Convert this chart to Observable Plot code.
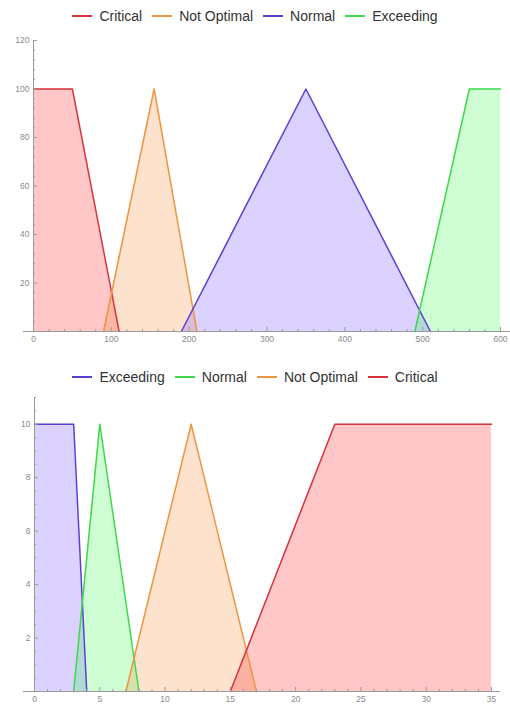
<!DOCTYPE html>
<html>
<head>
<meta charset="utf-8">
<script src="https://cdn.jsdelivr.net/npm/d3@7"></script>
<script src="https://cdn.jsdelivr.net/npm/@observablehq/plot@0.6"></script>
<style>
  body { margin: 0; background: #fff; width: 510px; font-family: "Liberation Sans", Arial, sans-serif; }
  .legend { text-align: center; font-size: 14px; color: #333; white-space: nowrap; }
  .legend .item { display: inline-block; margin: 0 5px; }
  .legend .swatch { display: inline-block; width: 20px; height: 2px; vertical-align: middle; margin-right: 7px; position: relative; top: -1px; }
  #legend1 { height: 28px; line-height: 28px; padding-top: 2px; }
  #legend2 { height: 25px; line-height: 25px; margin-top: 14px; }
  svg { display: block; }
</style>
</head>
<body>
<div id="legend1" class="legend"></div>
<div id="chart1"></div>
<div id="legend2" class="legend"></div>
<div id="chart2"></div>
<script>
// Membership functions, first panel (0–600 scale)
const topNames = ["Critical", "Not Optimal", "Normal", "Exceeding"];
const topX = [[0, 50, 110], [90, 155, 210], [190, 350, 510], [490, 560, 600]];
const topY = [[100, 100, 0], [0, 100, 0], [0, 100, 0], [0, 100, 100]];
const topXMajor = [0, 100, 200, 300, 400, 500, 600];
const topYMajor = [20, 40, 60, 80, 100, 120];

// Membership functions, second panel (0–35 scale)
const bottomNames = ["Exceeding", "Normal", "Not Optimal", "Critical"];
const bottomX = [[0, 3, 4], [3, 5, 8], [7, 12, 17], [15, 23, 35]];
const bottomY = [[10, 10, 0], [0, 10, 0], [0, 10, 0], [0, 10, 10]];
const bottomXMajor = [0, 5, 10, 15, 20, 25, 30, 35];
const bottomYMajor = [2, 4, 6, 8, 10];

// Colours: red, orange, purple, green (line and fill)
const RED = {line: "#d8343c", fill: "#ff0000"};
const ORANGE = {line: "#ef9440", fill: "#f5811e"};
const PURPLE = {line: "#5b3fd4", fill: "#5a32ff"};
const GREEN = {line: "#3fd84c", fill: "#1ef53c"};
const topColors = [RED, ORANGE, PURPLE, GREEN];
const bottomColors = [PURPLE, GREEN, ORANGE, RED];

function minorTicks(step, lo, hi, majorStep) {
  const out = [];
  for (let i = Math.round(lo / step); i * step <= hi + 1e-9; i++) {
    const v = +(i * step).toFixed(6);
    if (Math.abs(v / majorStep - Math.round(v / majorStep)) > 1e-6) out.push(v);
  }
  return out;
}

function legend(el, names, colors) {
  el.innerHTML = names.map((n, i) =>
    `<span class="item"><span class="swatch" style="background:${colors[i].line}"></span>${n}</span>`
  ).join("");
}

function chart({names, colors, xs, ys, xDomain, yDomain, xLine, xMajor, xMinor, yMajor, yMinor, height, marginTop, marginBottom, marginLeft, marginRight}) {
  const series = names.map((name, i) => xs[i].map((x, j) => ({name, x, y: ys[i][j]})));
  const marks = [];
  series.forEach((d, i) => marks.push(Plot.areaY(d, {x: "x", y: "y", fill: colors[i].fill, fillOpacity: 0.22})));
  series.forEach((d, i) => marks.push(Plot.line(d, {x: "x", y: "y", stroke: colors[i].line, strokeWidth: 1.5})));
  marks.push(
    Plot.ruleY([0], {x1: xLine[0], x2: xLine[1], stroke: "#9a9a9a", strokeWidth: 1}),
    Plot.ruleX([0], {y1: 0, y2: yDomain[1], stroke: "#9a9a9a", strokeWidth: 1}),
    Plot.axisX(xMajor, {tickSize: -4, tickPadding: 8, stroke: "#9a9a9a", label: null}),
    Plot.axisX(xMinor, {tickSize: -2, tickFormat: () => "", stroke: "#9a9a9a", label: null}),
    Plot.axisY(yMajor, {tickSize: -4, tickPadding: 8, stroke: "#9a9a9a", label: null}),
    Plot.axisY(yMinor, {tickSize: -2, tickFormat: () => "", stroke: "#9a9a9a", label: null})
  );
  return Plot.plot({
    width: 510, height, marginTop, marginBottom, marginLeft, marginRight,
    x: {domain: xDomain, label: null},
    y: {domain: yDomain, label: null},
    style: {fontFamily: "'Liberation Sans', Arial, sans-serif", fontSize: "8.5px", color: "#8a8a8a", background: "#fff"},
    marks
  });
}

legend(document.getElementById("legend1"), topNames, topColors);
document.getElementById("chart1").append(chart({
  names: topNames, colors: topColors, xs: topX, ys: topY,
  xDomain: [0, 600], yDomain: [0, 120], xLine: [-13, 613],
  xMajor: topXMajor, xMinor: minorTicks(20, 0, 600, 100),
  yMajor: topYMajor, yMinor: minorTicks(4, 0, 120, 20),
  height: 321, marginTop: 10, marginBottom: 20, marginLeft: 33, marginRight: 10
}));

legend(document.getElementById("legend2"), bottomNames, bottomColors);
document.getElementById("chart2").append(chart({
  names: bottomNames, colors: bottomColors, xs: bottomX, ys: bottomY,
  xDomain: [0, 35], yDomain: [0, 11], xLine: [-0.85, 35.7],
  xMajor: bottomXMajor, xMinor: minorTicks(1, 0, 35, 5),
  yMajor: bottomYMajor, yMinor: minorTicks(0.5, 0, 11, 2),
  height: 314, marginTop: 7, marginBottom: 13, marginLeft: 34, marginRight: 19
}));
</script>
</body>
</html>
